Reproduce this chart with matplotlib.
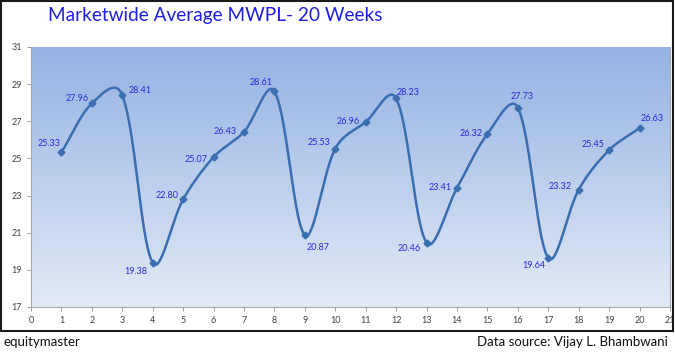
import numpy as np
import matplotlib
matplotlib.use("Agg")
import matplotlib.pyplot as plt
from matplotlib.patches import Rectangle
from matplotlib.colors import LinearSegmentedColormap

plt.rcParams['font.family'] = ['Lato', 'DejaVu Sans']

# data
weeks = list(range(1, 21))
mwpl = [25.33, 27.96, 28.41, 19.38, 22.80, 25.07, 26.43, 28.61, 20.87, 25.53,
        26.96, 28.23, 20.46, 23.41, 26.32, 27.73, 19.64, 23.32, 25.45, 26.63]
x_ticks = list(range(0, 22))
y_ticks = list(range(17, 32, 2))
title = "Marketwide Average MWPL- 20 Weeks"

# label placement (dx px, dy px with y downward, alignment)
label_pos = [(-1, -9, 'right'), (-3, -5, 'right'), (6, -5, 'left'), (-5, 9, 'right'),
             (-5, -4, 'right'), (-6, 2, 'right'), (-7, 0, 'right'), (-2, -9, 'right'),
             (2, 12, 'left'), (-5, -6, 'right'), (-6, -1, 'right'), (0, -6, 'left'),
             (-6, 6, 'right'), (-5, 0, 'right'), (-5, 0, 'right'), (4, -11, 'center'),
             (-3, 8, 'right'), (-7, -3, 'right'), (-5, -6, 'right'), (1, -10, 'left')]

AX_W, AX_H = 639, 260  # axes size in px


def smooth(xs, ys, sx, sy, steps=40):
    # smoothed line like excel: bezier, half catmull-rom, half tangents weighted
    # by segment length in screen space
    p = np.column_stack([xs, ys]).astype(float)
    scale = np.array([sx, sy])
    n = len(p)

    def d(a, b):
        return np.hypot(*((p[b] - p[a]) * scale))

    out = []
    for i in range(n - 1):
        p1, p2 = p[i], p[i + 1]
        d12 = d(i, i + 1)
        if i > 0:
            f = 0.5 / 6 + 0.5 * d12 / (d(i - 1, i) + d12) / 3.0
            c1 = p1 + (p2 - p[i - 1]) * f
        else:
            c1 = p1 + (p2 - p1) / 3.0
        if i + 2 < n:
            f = 0.5 / 6 + 0.5 * d12 / (d12 + d(i + 1, i + 2)) / 3.0
            c2 = p2 - (p[i + 2] - p1) * f
        else:
            c2 = p2 - (p2 - p1) / 3.0
        t = np.linspace(0, 1, steps)[:, None]
        seg = ((1 - t) ** 3) * p1 + 3 * ((1 - t) ** 2) * t * c1 + 3 * (1 - t) * t ** 2 * c2 + t ** 3 * p2
        out.append(seg if i == 0 else seg[1:])
    out = np.vstack(out)
    return out[:, 0], out[:, 1]


fig = plt.figure(figsize=(6.75, 3.52), dpi=100)
ax = fig.add_axes([31 / 675, 1 - 307 / 352, AX_W / 675, AX_H / 352])

ax.set_xlim(0, 21)
ax.set_ylim(17, 31)

# gradient background
cmap = LinearSegmentedColormap.from_list("bg", ["#E2EAF6", "#94B2E3"])
grad = np.linspace(0, 1, 256)[:, None]
ax.imshow(grad, extent=[0, 21, 17, 31], origin='lower', aspect='auto', cmap=cmap, zorder=0)

lx, ly = smooth(weeks, mwpl, AX_W / 21, AX_H / 14)
ax.plot(lx, ly, color='#3A6EB0', lw=1.8, zorder=3)
ax.plot(weeks, mwpl, ls='none', marker='D', ms=3.5, color='#3A6EB0', zorder=4)

for x, y, (dx, dy, ha) in zip(weeks, mwpl, label_pos):
    ax.annotate(f"{y:.2f}", (x, y), xytext=(dx * 0.72, -dy * 0.72), textcoords='offset points',
                ha=ha, va='center', fontsize=6.5, color='#2A2AD6', zorder=5)

ax.set_xticks(x_ticks)
ax.set_yticks(y_ticks)
ax.tick_params(labelsize=6.5, colors='#404040', length=3, width=0.6, color='#909090')
for s in ax.spines.values():
    s.set_color('#A8A8A8')
    s.set_linewidth(0.8)
ax.spines['top'].set_visible(False)

fig.text(48 / 675, 1 - 16 / 352, title, fontsize=13.7, color='#1F1FE0', ha='left', va='center')
fig.text(3 / 675, 1 - 342 / 352, "equitymaster", fontsize=9.5, color='#111111', ha='left', va='center')
fig.text(668 / 675, 1 - 342 / 352, "Data source: Vijay L. Bhambwani", fontsize=9.5, color='#111111',
         ha='right', va='center')

fig.patches.append(Rectangle((1 / 675, 1 - 331 / 352), 672 / 675, 330 / 352, transform=fig.transFigure,
                             fill=False, edgecolor='#1A1A1A', lw=1.5))

fig.savefig("out.png", dpi=100)
